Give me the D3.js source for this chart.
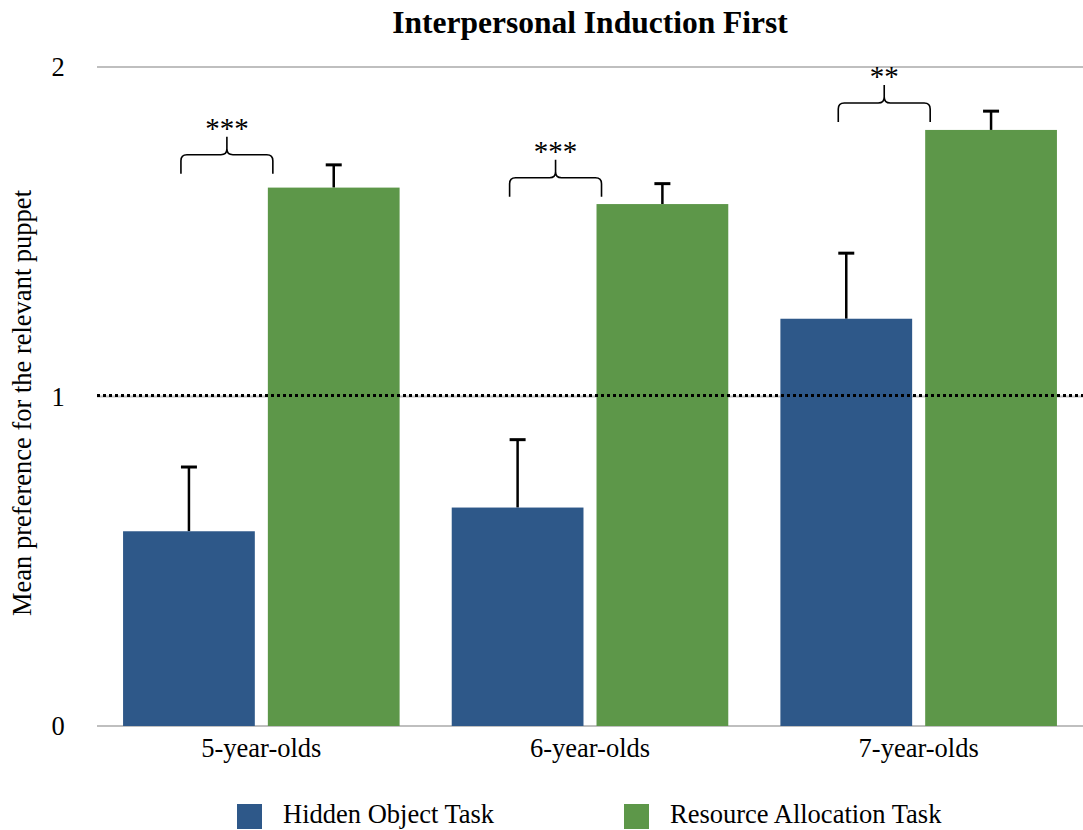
<!DOCTYPE html>
<html>
<head>
<meta charset="utf-8">
<script src="https://cdn.jsdelivr.net/npm/d3@7"></script>
<style>
  body { margin: 0; background: #fff; }
  text { font-family: "Liberation Serif", "Times New Roman", serif; }
</style>
</head>
<body>
<div id="chart"></div>
<script>
// data
const groups = ["5-year-olds", "6-year-olds", "7-year-olds"];
const series = ["Hidden Object Task", "Resource Allocation Task"];
const hiddenMean = [0.591, 0.663, 1.236];
const hiddenErr = [0.195, 0.206, 0.199];
const resourceMean = [1.634, 1.584, 1.809];
const resourceErr = [0.069, 0.062, 0.057];
const stars = ["***", "***", "**"];
const bracketLevel = [1.676, 1.606, 1.833];
const yTicks = [0, 1, 2];
const colors = ["#2E5889", "#5D9749"];

let margin = { top: 67, right: 0, bottom: 104, left: 97 };
let width = 1083 - margin.left - margin.right;
let height = 830 - margin.top - margin.bottom;

let svg = d3.select("#chart")
    .append("svg")
    .attr("width", width + margin.left + margin.right)
    .attr("height", height + margin.top + margin.bottom)
    .append("g")
    .attr("transform", "translate(" + margin.left + "," + margin.top + ")");

let x = d3.scaleBand().domain(groups).range([0, width]);
let xSub = d3.scaleBand().domain(series).range([0, x.bandwidth()])
    .paddingInner(0.09).paddingOuter(0.18);
let y = d3.scaleLinear().domain([0, 2]).range([height, 0]);

// gridlines
svg.selectAll(".grid")
    .data(yTicks)
    .join("line")
    .attr("class", "grid")
    .attr("x1", 0).attr("x2", width)
    .attr("y1", d => y(d)).attr("y2", d => y(d))
    .attr("stroke", "#BFBFBF")
    .attr("stroke-width", 2);

// y tick labels
svg.selectAll(".ytick")
    .data(yTicks)
    .join("text")
    .attr("class", "ytick")
    .attr("x", -39)
    .attr("y", d => y(d) + 9)
    .attr("text-anchor", "middle")
    .style("font-size", "26.5px")
    .text(d => d);

let rows = groups.map((g, i) => [
    { g: g, s: series[0], v: hiddenMean[i], e: hiddenErr[i], c: colors[0] },
    { g: g, s: series[1], v: resourceMean[i], e: resourceErr[i], c: colors[1] }
]).flat();

// error bars (drawn under bars so only the upper half shows)
let eb = svg.selectAll(".err")
    .data(rows)
    .join("g")
    .attr("class", "err")
    .attr("transform", d => "translate(" + (x(d.g) + xSub(d.s) + xSub.bandwidth() / 2) + ",0)");
eb.append("line")
    .attr("x1", 0).attr("x2", 0)
    .attr("y1", d => y(d.v)).attr("y2", d => y(d.v + d.e))
    .attr("stroke", "#000").attr("stroke-width", 2.5);
eb.append("line")
    .attr("x1", -8).attr("x2", 8)
    .attr("y1", d => y(d.v + d.e)).attr("y2", d => y(d.v + d.e))
    .attr("stroke", "#000").attr("stroke-width", 3);

// bars
svg.selectAll(".bar")
    .data(rows)
    .join("rect")
    .attr("class", "bar")
    .attr("x", d => x(d.g) + xSub(d.s))
    .attr("width", xSub.bandwidth())
    .attr("y", d => y(d.v))
    .attr("height", d => y(0) - y(d.v))
    .attr("fill", d => d.c);

// reference line at 1
svg.append("line")
    .attr("x1", 0).attr("x2", width)
    .attr("y1", y(1) - 1).attr("y2", y(1) - 1)
    .attr("stroke", "#000")
    .attr("stroke-width", 3)
    .attr("stroke-dasharray", "3,3");

// braces + significance stars
let bracePath = function (xl, xr, yb) {
    let yf = yb - 19, yt = yf - 18, xc = (xl + xr) / 2, r = 6;
    return "M" + xl + "," + yb + "L" + xl + "," + (yf + r) +
        "Q" + xl + "," + yf + " " + (xl + r) + "," + yf +
        "L" + (xc - r) + "," + yf + "Q" + xc + "," + yf + " " + xc + "," + (yf - r) +
        "L" + xc + "," + yt +
        "M" + xc + "," + (yf - r) + "Q" + xc + "," + yf + " " + (xc + r) + "," + yf +
        "L" + (xr - r) + "," + yf + "Q" + xr + "," + yf + " " + xr + "," + (yf + r) +
        "L" + xr + "," + yb;
};
groups.forEach((g, i) => {
    let xl = x(g) + xSub(series[0]) + xSub.bandwidth() / 2 - 8;
    let xr = x(g) + xSub(series[1]) + 5;
    let yb = y(bracketLevel[i]);
    svg.append("path")
        .attr("d", bracePath(xl, xr, yb))
        .attr("fill", "none")
        .attr("stroke", "#000")
        .attr("stroke-width", 1.6);
    svg.append("text")
        .attr("x", (xl + xr) / 2)
        .attr("y", yb - 36)
        .attr("text-anchor", "middle")
        .style("font-size", "29px")
        .text(stars[i]);
});

// x labels
svg.selectAll(".xlab")
    .data(groups)
    .join("text")
    .attr("class", "xlab")
    .attr("x", d => x(d) + x.bandwidth() / 2)
    .attr("y", height + 31)
    .attr("text-anchor", "middle")
    .style("font-size", "26.5px")
    .text(d => d);

// y axis title
svg.append("text")
    .attr("transform", "translate(" + (-66) + "," + 336 + ") rotate(-90)")
    .attr("text-anchor", "middle")
    .style("font-size", "26.5px")
    .text("Mean preference for the relevant puppet");

// title
svg.append("text")
    .attr("x", 590 - margin.left)
    .attr("y", 33 - margin.top)
    .attr("text-anchor", "middle")
    .style("font-size", "31.5px")
    .style("font-weight", "bold")
    .text("Interpersonal Induction First");

// legend
let legendX = [237, 624];
let lg = svg.selectAll(".legend")
    .data(series)
    .join("g")
    .attr("class", "legend")
    .attr("transform", (d, i) => "translate(" + (legendX[i] - margin.left) + "," + (804 - margin.top) + ")");
lg.append("rect")
    .attr("width", 25).attr("height", 25)
    .attr("fill", (d, i) => colors[i]);
lg.append("text")
    .attr("x", 46)
    .attr("y", 19)
    .style("font-size", "26.5px")
    .text(d => d);
</script>
</body>
</html>
